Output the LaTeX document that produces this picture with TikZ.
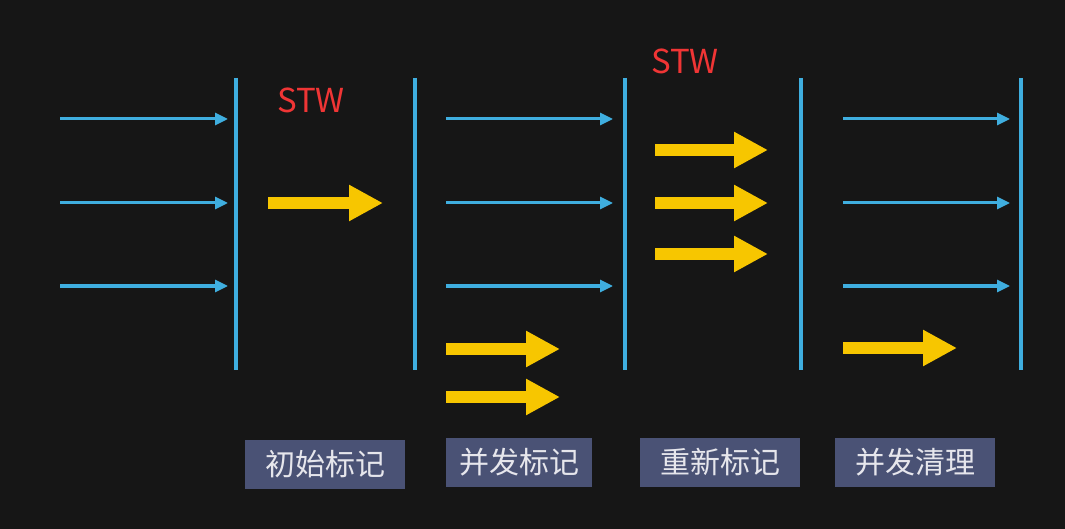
\documentclass[tikz,border=0pt]{standalone}
\usepackage{fontspec}
\setmainfont{Noto Sans CJK SC}
\newfontfamily\cjk{Noto Sans CJK SC}
\newfontfamily\cjklight{Noto Sans CJK SC Light}
\usetikzlibrary{arrows.meta}
\definecolor{bgc}{HTML}{161616}
\definecolor{bluec}{HTML}{3FAEDF}
\definecolor{yelc}{HTML}{F7C600}
\definecolor{redc}{HTML}{F03535}
\definecolor{boxc}{HTML}{4A5275}
\definecolor{txtc}{HTML}{E6E6EC}
\tikzset{
  divider/.style={bluec, line width=4pt},
  thinarrow/.style={bluec, line width=3pt, -{Triangle[length=13pt,width=12pt]}},
  fatarrow/.style={yelc, line width=12pt, -{Triangle[length=34pt,width=34pt]}},
  stw/.style={text=redc, font=\cjk\fontsize{33}{36}\selectfont, inner sep=0pt},
  phase/.style={fill=boxc, text=txtc, font=\cjk\fontsize{30}{32}\selectfont, minimum width=160pt, minimum height=49pt, inner sep=0pt}
}
\begin{document}
\begin{tikzpicture}[x=1pt,y=-1pt]
\useasboundingbox (0,0) rectangle (1065,529);
\fill[bgc] (0,0) rectangle (1065,529);
% dividers
\foreach \n/\x in {d1/236,d2/415,d3/625,d4/801,d5/1021}{
  \coordinate (\n t) at (\x,78);
  \coordinate (\n b) at (\x,370);
  \draw[divider] (\n t) -- (\n b);
}
% thin blue arrows
\foreach \g/\xa/\xb in {a/60/228,b/446/613,c/843/1010}{
  \foreach \i/\y in {1/119,2/203,3/286}{
    \coordinate (\g\i s) at (\xa,\y);
    \coordinate (\g\i e) at (\xb,\y);
    \draw[thinarrow] (\g\i s) -- (\g\i e);
  }
}
% yellow arrows
\foreach \n/\xa/\xb/\y in {y1/268/383/203, y2/446/560/349, y3/446/560/397, y4/655/768/150, y5/655/768/203, y6/655/768/254, y7/843/957/348}{
  \coordinate (\n s) at (\xa,\y);
  \coordinate (\n e) at (\xb,\y);
  \draw[fatarrow] (\n s) -- (\n e);
}
% STW labels
\node[stw] (stw1) at (311,100) {STW};
\node[stw] (stw2) at (685,61) {STW};
% phase labels
\node[phase] (p1) at (325,464) {初始标记};
\node[phase, minimum width=146pt] (p2) at (519,462) {并发标记};
\node[phase] (p3) at (720,462) {重新标记};
\node[phase] (p4) at (915,462) {并发清理};
\end{tikzpicture}
\end{document}
